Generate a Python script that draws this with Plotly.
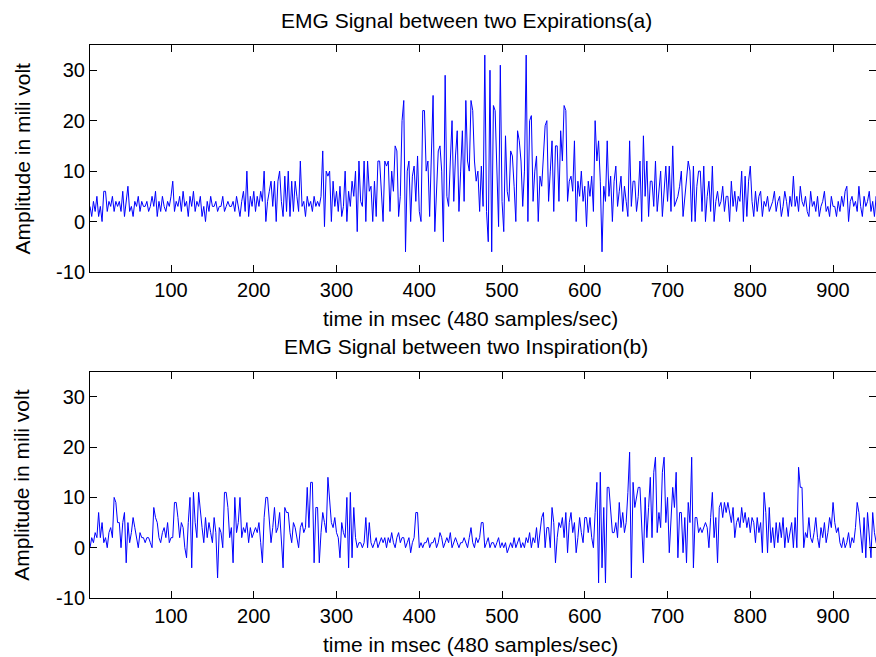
import plotly.graph_objects as go

# sample rate 480 Hz -> time axis in msec
fs = 480

expiration_mv = [
    3, 1, 4, 2, 5, 1, 3, 0, 6, 6, 2, 4, 3, 5, 2, 4, 3, 4, 2, 6, 1, 4, 7, 2,
    3, 1, 4, 3, 5, 2, 4, 3, 3, 4, 2, 3, 5, 3, 6, 1, 4, 2, 5, 3, 2, 4, 3, 5,
    8, 2, 4, 3, 5, 2, 6, 3, 4, 1, 5, 3, 6, 2, 4, 3, 5, 1, 3, 0, 4, 2, 5, 3,
    3, 4, 2, 3, 3, 5, 2, 3, 4, 3, 3, 4, 2, 5, 3, 1, 4, 6, 2, 10, 1, 5, 3, 6,
    2, 5, 3, 6, 4, 10, 0, 4, 6, 8, 3, 8, 0, 8, 10, 4, 1, 9, 2, 10, 1, 8, 2, 8,
    5, 2, 12, 3, 4, 1, 5, 3, 4, 2, 5, 3, 4, 3, 5, 14, -1, 10, 9, 10, 0, 8, 3, 6,
    2, 7, 1, 3, 10, 0, 6, 3, 8, 5, 10, -2, 12, 4, 3, 12, 0, 12, 6, 7, 0, 8, 1, 12,
    12, 7, 0, 12, 11, 12, 2, 10, 6, 15, 14, 1, 5, 20, 24, -6, 10, 12, 0, 9, 11, 4, 13, 2,
    0, 22, 22, 10, 12, 1, 12, 25, -2, 5, 14, 15, 10, -4, 29, 5, 3, 12, 20, 4, 13, 18, 2, 10,
    18, 4, 24, 12, 10, 24, 22, 12, 8, 10, 2, 11, 3, 33, 2, -4, 30, -6, 23, 22, 11, -1, 31, 4,
    -2, 17, 6, 4, 14, 13, 7, 0, 18, 16, 12, 3, 10, 33, 0, 20, 21, 4, 10, 13, 0, 9, 7, 14,
    19, 20, 4, 10, 16, 2, 15, 15, 4, 18, 12, 23, 22, 4, 8, 9, 6, 16, 0, 8, 5, 10, 4, 7,
    -1, 8, 5, 9, 2, 20, 12, 16, 8, -6, 7, 4, 16, 5, 9, 0, 8, 11, 3, 6, 9, 2, 7, 4,
    1, 16, 3, 8, 8, 2, 5, 12, 0, 17, 5, 12, 1, 8, 8, 3, 12, 2, 7, 10, 1, 6, 11, 4,
    11, 2, 15, 3, 4, 5, 7, 10, 1, 5, 8, 12, 10, 0, 11, 0, 7, 10, 10, 2, 11, 0, 5, 8,
    2, 11, 0, 4, 6, 3, 4, 7, 2, 5, 5, 0, 8, 3, 6, 2, 5, 4, 10, 0, 9, 1, 8, 11,
    4, 1, 6, 2, 5, 6, 1, 4, 3, 5, 2, 3, 4, 6, 2, 4, 5, 1, 3, 6, 4, 1, 5, 3,
    9, 3, 5, 2, 7, 4, 3, 5, 2, 1, 6, 3, 4, 2, 5, 1, 3, 4, 6, 2, 3, 1, 5, 3,
    3, 1, 4, 2, 5, 3, 6, 7, 0, 4, 5, 3, 4, 2, 7, 3, 1, 5, 3, 4, 6, 2, 4, 1,
    5, 2,
]

inspiration_mv = [
    0, 2, 1, 3, 2, 7, 2, 5, 1, 2, 0, 3, 4, 2, 10, 9, 5, 5, 0, 5, 7, -3, 5, 1,
    3, 6, 4, 2, 0, 3, 2, 2, 1, 2, 2, 1, 0, 8, 6, 5, 2, 1, 3, 4, 2, 5, 1, 2,
    2, 9, 9, 6, 2, 5, 4, 0, -2, 5, 10, -4, 11, 5, 2, 11, 7, 4, 1, 6, 2, 5, 3, 1,
    6, 3, -6, 4, 3, 0, 11, 11, 8, 2, 4, -3, 10, 3, 5, 10, 2, 4, 3, 5, 1, 4, 2, 3,
    4, 3, 5, 1, -3, 6, 10, 10, 5, 1, 4, 8, 3, 4, 7, 0, -4, 8, 7, 7, 3, 1, 5, 4,
    2, 0, 4, 5, 3, 4, 12, 4, 13, 13, -3, 8, 8, -3, 3, 7, 5, 3, 14, 9, 5, 4, 6, 3,
    2, -2, 5, 3, 2, 10, -4, 11, -2, 8, 2, 0, 1, 1, 0, 1, 6, 0, 5, 1, 0, 1, 2, 0,
    1, 2, 1, 2, 0, 2, 1, 3, 1, 0, 2, 3, 1, 2, 2, 0, 1, 2, -1, 1, 2, 7, 7, 0,
    1, 0, 1, 1, 2, 0, 1, 1, 2, 0, 1, 3, 2, 0, 1, 2, 1, 3, 0, 1, 2, 1, 0, 1,
    1, 2, 1, 0, 2, 4, 1, 0, 2, 1, 2, 5, 5, 0, 1, 2, 0, 1, 1, 0, 1, 2, 0, 1,
    0, 1, -1, 0, 1, 0, 2, 0, 1, 2, 0, 1, 0, 2, 1, 3, 0, 2, 1, 4, 0, 3, 6, 7,
    0, 4, 4, 0, 8, 5, -3, 2, 5, 4, 6, 2, 7, -1, 5, 7, 3, 5, -1, 2, 6, 3, 1, 6,
    6, 3, 6, 2, 0, 7, 13, -7, 15, -4, 8, -7, 12, 12, 8, 3, 3, 5, 2, 9, 4, 7, 3, 5,
    11, 19, -6, 13, 8, 10, 12, 12, 5, -3, 10, 2, 8, 14, 2, 15, 18, 3, 7, 4, 15, 18, 5, 10,
    -1, 5, 12, 8, 15, -2, 7, 7, -1, 6, -3, 9, 5, 18, -4, 6, 6, 3, 4, 3, 4, 5, 4, 0,
    6, 11, 2, 6, -3, 8, 9, 6, 9, 7, 9, 7, 5, 8, 2, 5, 6, 4, 8, 5, 7, 4, 6, 3,
    6, 5, 1, 6, 3, 5, -1, 11, 7, -1, 8, 1, 4, 0, 5, 1, 5, 2, 6, 0, 4, 1, 3, 5,
    0, 6, 0, 16, 12, 12, 0, 3, 2, 6, 2, 1, 3, 6, 2, 0, 4, 2, 5, 1, 3, 6, 4, 9,
    5, 3, 4, 1, 0, 2, 0, 1, 3, 0, 2, 1, 4, 9, 7, 2, -1, 6, -2, 7, 2, -2, 7, 3,
    1, 0,
]

x_ticks = [100, 200, 300, 400, 500, 600, 700, 800, 900]
y_ticks = [-10, 0, 10, 20, 30]
y_tick_text = ["-10", "0", "10", "20", "30"]

titles = ["EMG Signal between two Expirations(a)", "EMG Signal between two Inspiration(b)"]
x_label = "time in msec (480 samples/sec)"
y_label = "Amplitude in mili volt"

t1 = [(i + 1) * 1000 / fs for i in range(len(expiration_mv))]
t2 = [(i + 1) * 1000 / fs for i in range(len(inspiration_mv))]

W, H = 876, 657
L, R, T, B = 90, 0, 45, 59
ph = H - T - B          # plot height in px
pw = W - L - R


def py(p):
    # pixel row -> paper y
    return (H - B - p) / ph


def px(p):
    return (p - L) / pw


fig = go.Figure()
fig.add_trace(go.Scatter(x=t1, y=expiration_mv, mode="lines",
                         line=dict(color="#0000ff", width=1), xaxis="x", yaxis="y"))
fig.add_trace(go.Scatter(x=t2, y=inspiration_mv, mode="lines",
                         line=dict(color="#0000ff", width=1), xaxis="x2", yaxis="y2"))

tick_font = dict(family="Liberation Sans, Arial, sans-serif", size=20, color="black")
label_font = dict(family="Liberation Sans, Arial, sans-serif", size=21, color="black")

ax_common = dict(showline=True, linecolor="black", linewidth=1, ticks="inside",
                 ticklen=7, tickcolor="black", showgrid=False, zeroline=False,
                 mirror="ticks", tickfont=tick_font)

fig.update_layout(
    width=W, height=H,
    margin=dict(l=L, r=R, t=T, b=B),
    paper_bgcolor="white", plot_bgcolor="white",
    showlegend=False,
    xaxis=dict(domain=[0, 1], anchor="y", range=[2.083, 951.9], tickvals=x_ticks, **ax_common),
    yaxis=dict(domain=[py(272), 1], anchor="x", range=[-10, 35], tickvals=y_ticks,
               ticktext=y_tick_text, **ax_common),
    xaxis2=dict(domain=[0, 1], anchor="y2", range=[2.083, 951.9], tickvals=x_ticks, **ax_common),
    yaxis2=dict(domain=[0, py(371.7)], anchor="x2", range=[-10, 35], tickvals=y_ticks,
                ticktext=y_tick_text, **ax_common),
)

annots = []
for title, top, bottom in [(titles[0], 45, 272), (titles[1], 371.7, 598)]:
    annots.append(dict(text=title, x=px(466), y=py(top - 25), xref="paper", yref="paper",
                       xanchor="center", yanchor="middle", showarrow=False, font=label_font))
    annots.append(dict(text=x_label, x=px(470), y=py(bottom + 46), xref="paper", yref="paper",
                       xanchor="center", yanchor="middle", showarrow=False, font=label_font))
    annots.append(dict(text=y_label, x=px(22), y=py((top + bottom) / 2), xref="paper", yref="paper",
                       xanchor="center", yanchor="middle", textangle=-90, showarrow=False,
                       font=label_font))
fig.update_layout(annotations=annots)

fig.write_html("out.html", config={"displayModeBar": False},
               post_script="document.body.style.margin='0';document.body.style.overflow='hidden';")
